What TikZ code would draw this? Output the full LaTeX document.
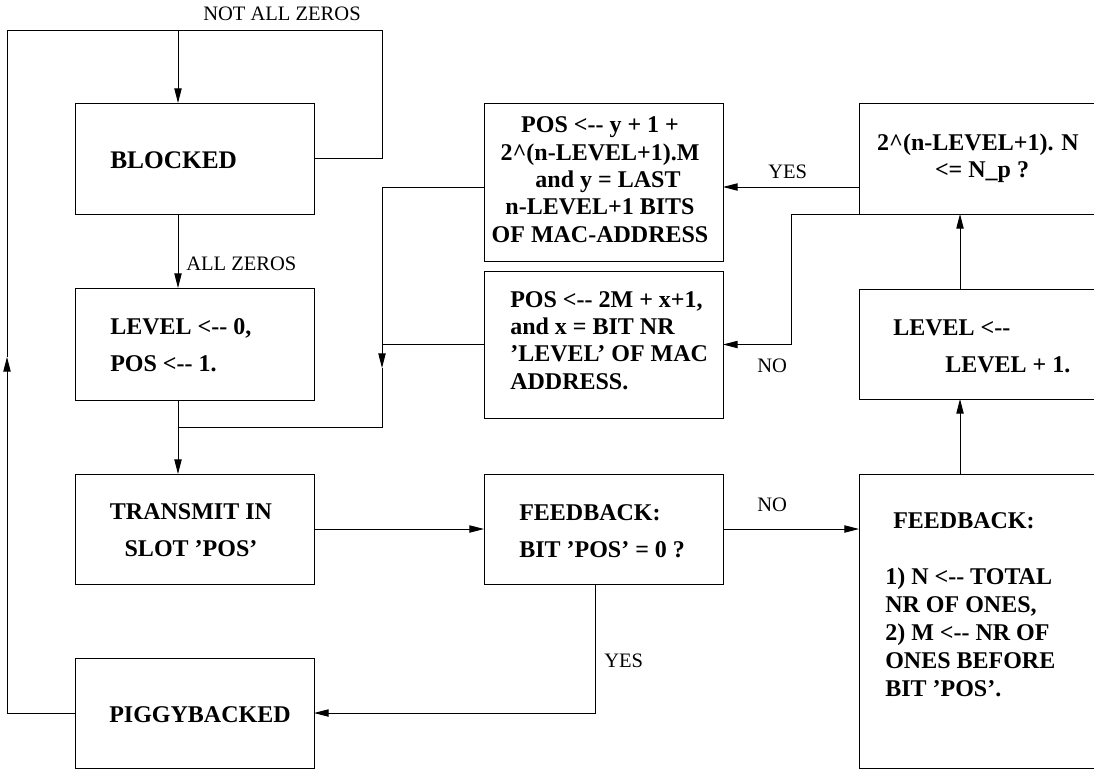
\documentclass[tikz,border=0pt]{standalone}
\usepackage{fontspec}
\setmainfont{Liberation Serif}
\usetikzlibrary{arrows.meta}
\begin{document}
\begin{tikzpicture}[x=0.75pt,y=-0.75pt,
  box/.style={draw, line width=0.7pt, inner sep=0pt, outer sep=0pt, rectangle},
  conn/.style={line width=0.7pt},
  arr/.style={conn, -{Triangle[length=11pt,width=5.5pt]}},
  txt/.style={font=\fontsize{18}{20.5}\selectfont\bfseries, inner sep=0pt, align=left},
  txtw/.style={font=\fontsize{18}{27.5}\selectfont\bfseries, inner sep=0pt, align=left},
  lbl/.style={font=\fontsize{15.4}{17}\selectfont, inner sep=0pt}]
\useasboundingbox (0,0) rectangle (1094,771);
\begin{scope}
\clip (0,0) rectangle (1094,771);
% boxes
\node[box, minimum width=179.25pt, minimum height=83.25pt] (blocked) at (194.5,158.5) {};
\node[box, minimum width=179.25pt, minimum height=84pt] (level0) at (194.5,344) {};
\node[box, minimum width=179.25pt, minimum height=82.5pt] (transmit) at (194.5,529) {};
\node[box, minimum width=179.25pt, minimum height=82.5pt] (piggy) at (194.5,713) {};
\node[box, minimum width=179.25pt, minimum height=118.5pt] (pos1) at (603.5,182) {};
\node[box, minimum width=179.25pt, minimum height=110.25pt] (pos2) at (603.5,344.5) {};
\node[box, minimum width=179.25pt, minimum height=82.5pt] (fb1) at (603.5,529) {};
\node[box, minimum width=180.75pt, minimum height=83.25pt] (cond) at (979.5,158.5) {};
\node[box, minimum width=180.75pt, minimum height=82.5pt] (levinc) at (979.5,344) {};
\node[box, minimum width=180.75pt, minimum height=220.5pt] (fb2) at (979.5,621) {};
% texts (base anchor = baseline of the last line)
\node[txt, font=\fontsize{19}{21}\selectfont\bfseries, anchor=base west] (tblocked) at (110,168) {BLOCKED};
\node[txtw, anchor=base west] (tlevel0) at (110,371) {LEVEL <-{}- 0,\\POS <-{}- 1.};
\node[txtw, align=center, anchor=base] (ttransmit) at (191,556) {TRANSMIT IN\\SLOT ’POS’};
\node[txt, anchor=base west] (tpiggy) at (109,722) {PIGGYBACKED};
\node[txt, align=center, anchor=base] (tpos1) at (600,242) {POS <-{}- y + 1 +\\2\textasciicircum(n-LEVEL+1).M\\\hspace*{12pt}and y = LAST\\n-LEVEL+1 BITS\\OF MAC-ADDRESS};
\node[txt, anchor=base west] (tpos2) at (510,389) {POS <-{}- 2M + x+1,\\and x = BIT NR\\’LEVEL’ OF MAC\\ADDRESS.};
\node[txtw, anchor=base west] (tfb1) at (519,557) {FEEDBACK:\\BIT ’POS’ = 0 ?};
\node[txt, font=\fontsize{18}{20.25}\selectfont\bfseries, align=center, anchor=base] (tcond) at (978,177) {2\textasciicircum(n-LEVEL+1). N\\\hspace*{6pt}<= N\_p ?};
\node[txtw, anchor=base west] (tlevinc) at (893,372) {LEVEL <-{}-\\\hspace*{39pt}LEVEL + 1.};
\node[txt, font=\fontsize{18}{21}\selectfont\bfseries, anchor=base west] (tfb2) at (885,696) {\hspace*{6pt}FEEDBACK:\\[21pt]1) N <-{}- TOTAL\\NR OF ONES,\\2) M <-{}- NR OF\\ONES BEFORE\\BIT ’POS’.};
% labels
\node[lbl, anchor=base west] (lnaz) at (203,21) {NOT ALL ZEROS};
\node[lbl, anchor=base west] (laz) at (186,270) {ALL ZEROS};
\node[lbl, anchor=base west] (lyes1) at (768,178) {YES};
\node[lbl, anchor=base west] (lno1) at (757,372) {NO};
\node[lbl, anchor=base west] (lno2) at (757,511) {NO};
\node[lbl, anchor=base west] (lyes2) at (604,667) {YES};
% helper coordinates
\coordinate (xa) at (178,0);
\coordinate (xb) at (595,0);
\coordinate (xc) at (960,0);
\coordinate (ya) at (0,187);
\coordinate (tl) at (7,30);
\coordinate (tr) at (382,30);
\coordinate (la) at (7,357);
\coordinate (ja) at (382,368);
\coordinate (jv) at (382,427);
\coordinate (mr) at (791,214);
% connectors
\draw[arr] (piggy.west) -| (la);
\draw[conn] (la) -- (tl) -- (tr) |- (blocked.east);
\draw[arr] (tl -| xa) -- (blocked.north -| xa);
\draw[arr] (blocked.south -| xa) -- (level0.north -| xa);
\draw[arr] (level0.south -| xa) -- (transmit.north -| xa);
\draw[arr] (pos1.west |- ya) -| (ja);
\draw[conn] (ja) -- (jv) -- (jv -| xa);
\draw[conn] (pos2.west) -- (pos2.west -| jv);
\draw[arr] (transmit.east) -- (fb1.west);
\draw[arr] (fb1.east) -- (fb1.east -| fb2.west);
\draw[arr] (fb1.south -| xb) |- (piggy.east);
\draw[arr] (fb2.north -| xc) -- (levinc.south -| xc);
\draw[arr] (levinc.north -| xc) -- (cond.south -| xc);
\draw[arr] (cond.west |- ya) -- (pos1.east |- ya);
\draw[arr] (cond.south west) -- (mr) |- (pos2.east);
\end{scope}
\end{tikzpicture}
\end{document}
